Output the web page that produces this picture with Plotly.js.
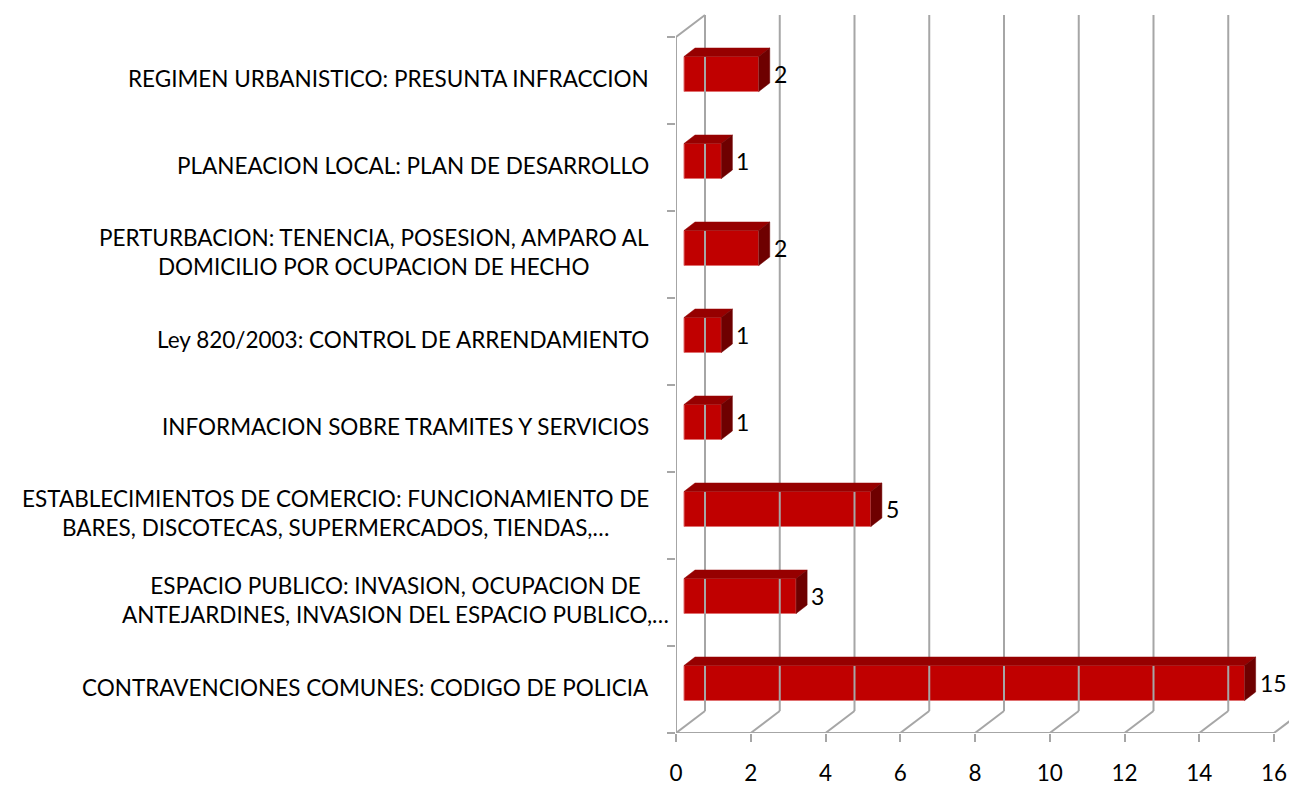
<!DOCTYPE html>
<html>
<head>
<meta charset="utf-8">
<script src="https://cdn.plot.ly/plotly-3.0.1.min.js"></script>
<style>html,body{margin:0;padding:0;background:#fff;}#chart{width:1289px;height:787px;}</style>
</head>
<body>
<div id="chart"></div>
<script>
// ---- data (bottom to top) ----
const categories = [
  "CONTRAVENCIONES COMUNES: CODIGO DE POLICIA",
  "ESPACIO PUBLICO: INVASION, OCUPACION DE<br>ANTEJARDINES, INVASION DEL ESPACIO PUBLICO,…",
  "ESTABLECIMIENTOS DE COMERCIO: FUNCIONAMIENTO DE<br>BARES, DISCOTECAS, SUPERMERCADOS, TIENDAS,…",
  "INFORMACION SOBRE TRAMITES Y SERVICIOS",
  "Ley 820/2003: CONTROL DE ARRENDAMIENTO",
  "PERTURBACION: TENENCIA, POSESION, AMPARO AL<br>DOMICILIO POR OCUPACION DE HECHO",
  "PLANEACION LOCAL: PLAN DE DESARROLLO",
  "REGIMEN URBANISTICO: PRESUNTA INFRACCION"
];
const values = [15, 3, 5, 1, 1, 2, 1, 2];
const xTickVals = [0, 2, 4, 6, 8, 10, 12, 14, 16];

// ---- geometry (pixel-derived constants for the pseudo-3D look) ----
const W = 1289, H = 787;
const mL = 676, mR = 0, mT = 10, mB = 54;
const pxX = 37.375;            // px per x unit
const pxY = 87;                // px per category
const xMax = (W - mL - mR) / pxX;
const yMin = -0.5, yMax = 7.5 + 27 / pxY;
const DX = 29 / pxX, DY = 22 / pxY;     // wall depth
const bx0 = 8 / pxX, by0 = 6.5 / pxY;   // bar front offset
const bh = 17.5 / pxY;                  // bar half height
const ddx = 11 / pxX, ddy = 8.5 / pxY;  // bar depth
const FONT = "Lato, 'Open Sans', sans-serif";
const gridColor = "#a6a6a6";

const traces = [];
const n = categories.length;
const yTop = yMin + n;

// back wall gridlines
const gx = [], gy = [];
xTickVals.forEach(v => { gx.push(v + DX, v + DX, null); gy.push(yMin + DY, yTop + DY, null); });
// floor diagonals
xTickVals.forEach(v => { gx.push(v, v + DX, null); gy.push(yMin, yMin + DY, null); });
// left wall edges
gx.push(0, 0, DX, null); gy.push(yMin, yTop, yTop + DY, null);
// front x axis line
gx.push(0, xTickVals[xTickVals.length - 1]); gy.push(yMin, yMin);
traces.push({type: "scatter", mode: "lines", x: gx, y: gy, line: {color: gridColor, width: 2},
  hoverinfo: "skip", showlegend: false, cliponaxis: false});

// bar top and side faces
const tx = [], ty = [], sx = [], sy = [];
values.forEach((v, i) => {
  const x0 = bx0, x1 = v + bx0, yc = i + by0, yt = yc + bh, yb = yc - bh;
  tx.push(x0, x0 + ddx, x1 + ddx, x1, x0, null);
  ty.push(yt, yt + ddy, yt + ddy, yt, yt, null);
  sx.push(x1, x1, x1 + ddx, x1 + ddx, x1, null);
  sy.push(yb, yt, yt + ddy, yb + ddy, yb, null);
});
traces.push({type: "scatter", mode: "lines", x: tx, y: ty, fill: "toself", fillcolor: "#960000",
  line: {color: "#960000", width: 0.5}, hoverinfo: "skip", showlegend: false});
traces.push({type: "scatter", mode: "lines", x: sx, y: sy, fill: "toself", fillcolor: "#6e0000",
  line: {color: "#6e0000", width: 0.5}, hoverinfo: "skip", showlegend: false});

// bar front faces
traces.push({type: "bar", orientation: "h", x: values, base: values.map(() => bx0),
  y: values.map((v, i) => i + by0), width: 2 * bh,
  marker: {color: "#c00000", line: {color: "#e07070", width: 1}},
  hoverinfo: "x", showlegend: false});

const annotations = [];
// value labels
values.forEach((v, i) => {
  annotations.push({x: v + bx0 + 13 / pxX, y: i + by0, xref: "x", yref: "y", text: String(v),
    showarrow: false, xanchor: "left", yanchor: "middle", font: {family: FONT, size: 23, color: "#000"}});
});
// category labels
categories.forEach((c, i) => {
  const rightPx = (i === 1) ? 671 : 651;
  annotations.push({x: (rightPx - mL) / (W - mL - mR), xref: "paper", y: i + 2.5 / pxY, yref: "y",
    text: c, showarrow: false, xanchor: "right", yanchor: "middle", align: "center",
    font: {family: FONT, size: 22.5, color: "#000"}});
});

const layout = {
  width: W, height: H,
  margin: {l: mL, r: mR, t: mT, b: mB, pad: 0},
  paper_bgcolor: "#fff", plot_bgcolor: "rgba(0,0,0,0)",
  showlegend: false,
  xaxis: {range: [0, xMax], showgrid: false, zeroline: false, showline: false,
    tickvals: xTickVals, ticktext: xTickVals.map(String), ticks: "outside", ticklen: 8,
    tickwidth: 2, tickcolor: gridColor, ticklabelstandoff: 12,
    tickfont: {family: FONT, size: 22.5, color: "#000"}, fixedrange: true},
  yaxis: {range: [yMin, yMax], showgrid: false, zeroline: false, showline: false,
    tickvals: Array.from({length: n + 1}, (_, k) => yMin + k), showticklabels: false,
    ticks: "outside", ticklen: 8, tickwidth: 2, tickcolor: gridColor, fixedrange: true},
  annotations: annotations
};

Plotly.newPlot("chart", traces, layout, {displayModeBar: false, staticPlot: true});
</script>
</body>
</html>
